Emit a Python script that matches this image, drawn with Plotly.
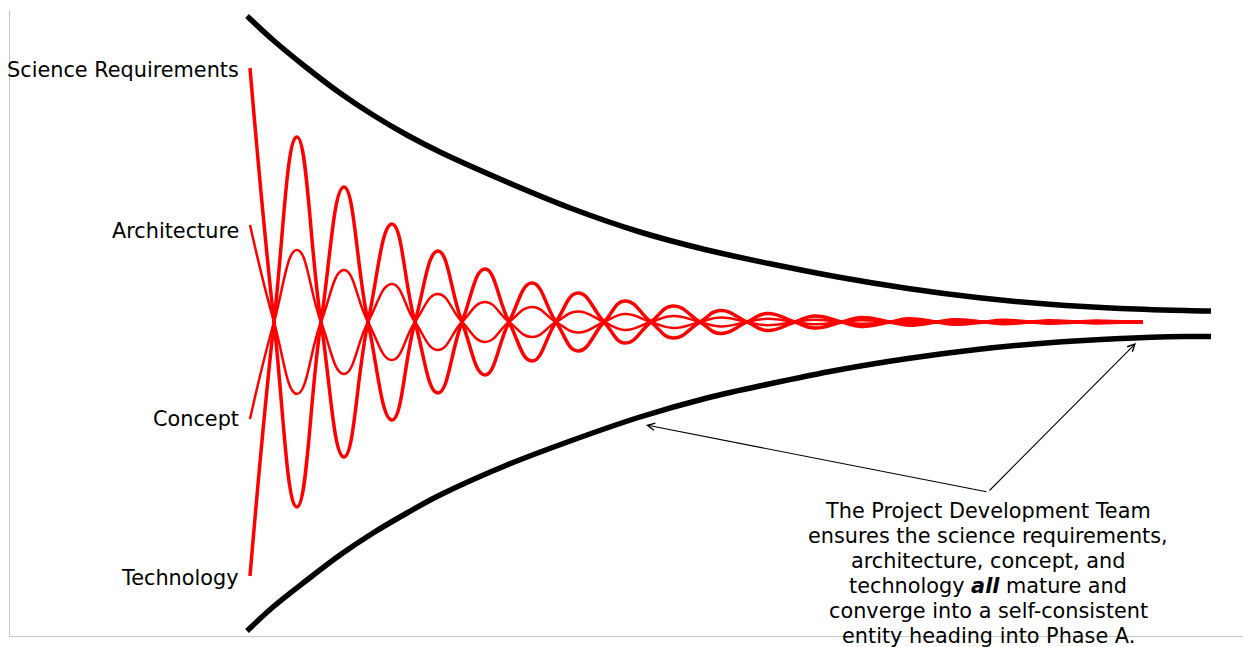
import plotly.graph_objects as go

# ---- data ----
# red oscillation curves: x positions of peaks / zero crossings along the timeline
osc_x = [0, 24, 47, 71, 94, 118, 142, 165, 188, 212, 235, 259, 282, 306, 328, 354, 375, 401,
         423, 450, 470, 497, 517, 545, 564, 592, 611, 640, 658, 687, 705, 734, 752, 781,
         799, 828, 846, 875, 893]
science_y = [254, 0, -185, 0, 135, 0, -98, 0, 71, 0, -53, 0, 39, 0, -29, 0, 21, 0, -16, 0,
             11.5, 0, -8.5, 0, 6, 0, -4.4, 0, 3.2, 0, -2.3, 0, 1.7, 0, -1.2, 0, 0.9, 0, 0]
technology_y = [-254, 0, 185, 0, -135, 0, 98, 0, -71, 0, 53, 0, -39, 0, 29, 0, -21, 0, 16, 0,
                -11.5, 0, 8.5, 0, -6, 0, 4.4, 0, -3.2, 0, 2.3, 0, -1.7, 0, 1.2, 0, -0.9, 0, 0]
architecture_y = [97, 0, -72, 0, 52, 0, -38, 0, 28, 0, -20, 0, 15, 0, -10.5, 0, 8, 0, -6, 0,
                  4.4, 0, -3.2, 0, 2.3, 0, -1.7, 0, 1.2, 0, -0.9, 0, 0.6, 0, -0.5, 0, 0.35, 0, 0]
concept_y = [-97, 0, 72, 0, -52, 0, 38, 0, -28, 0, 20, 0, -15, 0, 10.5, 0, -8, 0, 6, 0,
             -4.4, 0, 3.2, 0, -2.3, 0, 1.7, 0, -1.2, 0, 0.9, 0, -0.6, 0, 0.5, 0, -0.35, 0, 0]

# black funnel boundaries
funnel_x = [-3, 23, 57, 90, 123, 157, 190, 257, 323, 390, 457, 519, 588, 658, 727, 796,
            865, 935, 961]
funnel_upper = [306, 282, 254, 229, 207, 187, 170, 140, 113, 90, 72, 58.5, 45, 33.5, 24.5,
                18, 13.8, 11.5, 11]
funnel_lower = [-309, -285, -258, -233, -211, -191, -173, -143, -118, -95, -76, -62, -48,
                -36.5, -27.5, -21, -16.8, -14.5, -14.5]

# labels
label_names = ["Science Requirements", "Architecture", "Concept", "Technology"]
label_y = [252, 91, -97, -256]

note_lines = [
    "The Project Development Team",
    "ensures the science requirements,",
    "architecture, concept, and",
    "technology <b><i>all</i></b> mature and",
    "converge into a self-consistent",
    "entity heading into Phase A.",
]
note_x = 738
note_y = [-189, -214, -239, -264, -289, -314]

arrow_tail = (738, -170)
arrow_heads = [(396, -103), (886, -21)]

FONT = "DejaVu Sans"
FSIZE = 20.8

fig = go.Figure()

for ys in (architecture_y, concept_y):
    fig.add_trace(go.Scatter(x=osc_x, y=ys, mode="lines",
                             line=dict(color="#ff0000", width=2.5, shape="spline", smoothing=1.3),
                             hoverinfo="skip", showlegend=False))
for ys in (science_y, technology_y):
    fig.add_trace(go.Scatter(x=osc_x, y=ys, mode="lines",
                             line=dict(color="#ff0000", width=3.5, shape="spline", smoothing=1.3),
                             hoverinfo="skip", showlegend=False))
for ys in (funnel_upper, funnel_lower):
    fig.add_trace(go.Scatter(x=funnel_x, y=ys, mode="lines",
                             line=dict(color="#000000", width=5.5, shape="spline", smoothing=1.0),
                             hoverinfo="skip", showlegend=False))

annotations = []
for name, yy in zip(label_names, label_y):
    annotations.append(dict(x=-9, y=yy, xref="x", yref="y", text=name, showarrow=False,
                            xanchor="right", yanchor="middle",
                            font=dict(family=FONT, size=FSIZE, color="#000000")))
for line, yy in zip(note_lines, note_y):
    annotations.append(dict(x=note_x, y=yy, xref="x", yref="y", text=line, showarrow=False,
                            xanchor="center", yanchor="middle",
                            font=dict(family=FONT, size=FSIZE, color="#000000")))
for hx, hy in arrow_heads:
    annotations.append(dict(x=hx, y=hy, xref="x", yref="y", ax=arrow_tail[0], ay=arrow_tail[1],
                            axref="x", ayref="y", text="", showarrow=True,
                            arrowhead=5, arrowsize=1.3, arrowwidth=1.1, arrowcolor="#000000",
                            standoff=0, startstandoff=0))

fig.update_layout(
    width=1243, height=647,
    margin=dict(l=10, r=0, t=10, b=11, pad=0),
    paper_bgcolor="white", plot_bgcolor="white",
    annotations=annotations,
    xaxis=dict(range=[-240, 993], showgrid=False, zeroline=False, showticklabels=False,
               ticks="", showline=True, linecolor="#c8c8c8", linewidth=1, fixedrange=True),
    yaxis=dict(range=[-314, 312], showgrid=False, zeroline=False, showticklabels=False,
               ticks="", showline=True, linecolor="#c8c8c8", linewidth=1, fixedrange=True),
)

fig.write_html("out.html", config={"displayModeBar": False},
               post_script="document.body.style.margin='0';document.body.style.overflow='hidden';")
